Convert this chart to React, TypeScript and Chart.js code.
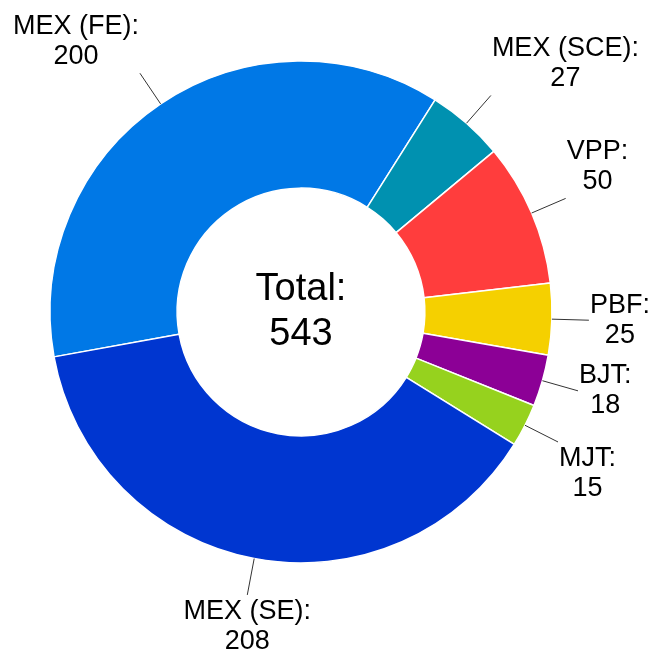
import React, { useEffect, useRef } from "react";
import { Chart, registerables } from "chart.js";

Chart.register(...registerables);

const categories = ["MEX (FE)", "MEX (SCE)", "VPP", "PBF", "BJT", "MJT", "MEX (SE)"];
const values = [200, 27, 50, 25, 18, 15, 208];
const colors = ["#0078E6", "#0091B0", "#FF3D3D", "#F5D000", "#8C0096", "#96D21E", "#0036D0"];
const centerTitle = "Total:";

const FONT = "'Liberation Sans', Arial, Helvetica, sans-serif";

const labelPlugin = {
  id: "outerLabels",
  afterDatasetsDraw(chart: any) {
    const ctx = chart.ctx;
    const meta = chart.getDatasetMeta(0);
    ctx.save();
    meta.data.forEach((arc: any, i: number) => {
      const { x, y, startAngle, endAngle, outerRadius } = arc.getProps(
        ["x", "y", "startAngle", "endAngle", "outerRadius"],
        true
      );
      const mid = (startAngle + endAngle) / 2;
      const c = Math.cos(mid);
      const s = Math.sin(mid);
      const x1 = x + outerRadius * c;
      const y1 = y + outerRadius * s;
      const x2 = x + (outerRadius + 37) * c;
      const y2 = y + (outerRadius + 37) * s;
      ctx.strokeStyle = "#333";
      ctx.lineWidth = 1;
      ctx.beginPath();
      ctx.moveTo(x1, y1);
      ctx.lineTo(x2, y2);
      ctx.stroke();

      const lines = [categories[i] + ":", String(values[i])];
      ctx.font = `27px ${FONT}`;
      ctx.fillStyle = "#000";
      ctx.textAlign = "center";
      ctx.textBaseline = "middle";
      const w = Math.max(...lines.map((t) => ctx.measureText(t).width));
      const lh = 30;
      const h = lh * lines.length;
      let cx: number;
      if (c > 0.3) cx = x2 + 1 + w / 2;
      else if (c < -0.3) cx = x2 - 1 - w / 2;
      else cx = x2;
      let top: number;
      if (s < -0.35) top = y2 - 2 - h;
      else if (s > 0.35) top = y2 + 2;
      else top = y2 - h / 2;
      lines.forEach((t, k) => {
        ctx.fillText(t, cx, top + lh * k + lh / 2);
      });
    });

    const total = values.reduce((a, b) => a + b, 0);
    const arc0: any = meta.data[0];
    ctx.font = `38px ${FONT}`;
    ctx.fillStyle = "#000";
    ctx.textAlign = "center";
    ctx.textBaseline = "middle";
    ctx.fillText(centerTitle, arc0.x, arc0.y - 22.5);
    ctx.fillText(String(total), arc0.x, arc0.y + 22.5);
    ctx.restore();
  },
};

export default function App() {
  const ref = useRef<HTMLCanvasElement | null>(null);
  useEffect(() => {
    if (!ref.current) return;
    const chart = new Chart(ref.current, {
      type: "doughnut",
      data: {
        labels: categories,
        datasets: [
          {
            data: values,
            backgroundColor: colors,
            borderColor: "#ffffff",
            borderWidth: 1.5,
          },
        ],
      },
      options: {
        responsive: false,
        animation: false,
        rotation: 259.7,
        radius: 251,
        cutout: 124,
        layout: { padding: { left: 49, right: 101, top: 60, bottom: 89 } },
        plugins: {
          legend: { display: false },
          tooltip: { enabled: false },
        },
      },
      plugins: [labelPlugin],
    });
    return () => chart.destroy();
  }, []);
  return (
    <div style={{ position: "fixed", left: 0, top: 0, width: 654, height: 653, background: "#fff" }}>
      <canvas ref={ref} width={654} height={653} />
    </div>
  );
}
